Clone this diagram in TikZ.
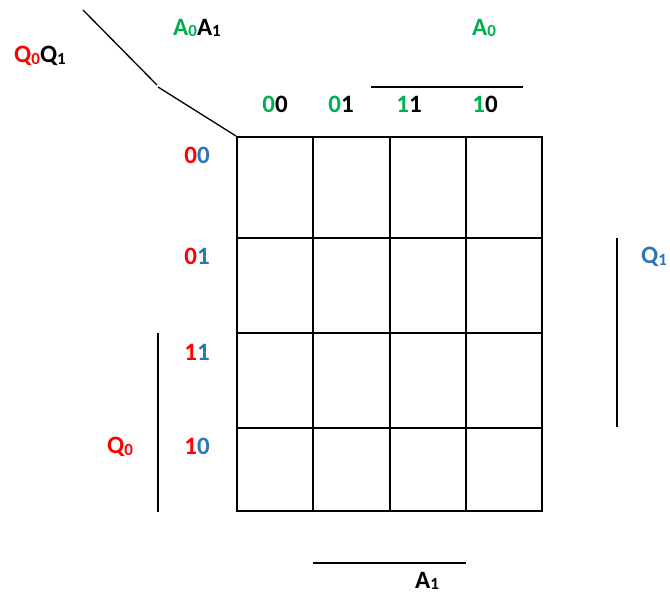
\documentclass[tikz,border=0pt]{standalone}
\usepackage{fontspec}
\setmainfont{Carlito}
\definecolor{kred}{HTML}{FF0000}
\definecolor{kgreen}{HTML}{00B050}
\definecolor{kblue}{HTML}{2E75B6}
\newcommand{\kmsub}[1]{\raisebox{-1.5pt}{\fontsize{17}{17}\selectfont #1}}
\begin{document}
\begin{tikzpicture}[x=1pt,y=-1pt,
  lbl/.style={font=\fontsize{25}{30}\selectfont\bfseries, inner sep=0pt, anchor=center},
  gridline/.style={line width=2pt},
  thin/.style={line width=1.3pt},
  bar/.style={line width=2pt}]
\useasboundingbox (0,0) rectangle (670,594);
% grid
\draw[gridline] (237,137) rectangle (542,511);
\foreach \x in {313,390,466} \draw[gridline] (\x,137) -- (\x,511);
\foreach \y in {238,333,428} \draw[gridline] (237,\y) -- (542,\y);
% diagonal
\coordinate (d1) at (83,10);
\coordinate (d2) at (157,85);
\coordinate (d3) at (158,87);
\coordinate (d4) at (236,136);
\draw[thin] (d1) -- (d2);
\draw[thin] (d3) -- (d4);
% corner labels
\node[lbl] (qq) at (40,56) {\textcolor{kred}{Q\kmsub{0}}Q\kmsub{1}};
\node[lbl] (aa) at (197,28) {\textcolor{kgreen}{A\kmsub{0}}A\kmsub{1}};
% column headers
\node[lbl] (c1) at (275,104) {\textcolor{kgreen}{0}0};
\node[lbl] (c2) at (341,104) {\textcolor{kgreen}{0}1};
\node[lbl] (c3) at (409,104) {\textcolor{kgreen}{1}1};
\node[lbl] (c4) at (485,104) {\textcolor{kgreen}{1}0};
% row headers
\node[lbl] (r1) at (197,155) {\textcolor{kred}{0}\textcolor{kblue}{0}};
\node[lbl] (r2) at (197,256) {\textcolor{kred}{0}\textcolor{kblue}{1}};
\node[lbl] (r3) at (197,352) {\textcolor{kred}{1}\textcolor{kblue}{1}};
\node[lbl] (r4) at (197,446) {\textcolor{kred}{1}\textcolor{kblue}{0}};
% variable bars
\coordinate (ta) at (371,87); \coordinate (tb) at (523,87);
\draw[bar] (ta) -- (tb);
\node[lbl,text=kgreen] (a0) at (484,28) {A\kmsub{0}};
\coordinate (ra) at (617,238); \coordinate (rb) at (617,427);
\draw[bar] (ra) -- (rb);
\node[lbl,text=kblue] (q1) at (654,257) {Q\kmsub{1}};
\coordinate (la) at (158,333); \coordinate (lb) at (158,512);
\draw[bar] (la) -- (lb);
\node[lbl,text=kred] (q0) at (120,447) {Q\kmsub{0}};
\coordinate (ba) at (313,563); \coordinate (bb) at (466,563);
\draw[bar] (ba) -- (bb);
\node[lbl] (a1) at (427,581) {A\kmsub{1}};
\end{tikzpicture}
\end{document}
